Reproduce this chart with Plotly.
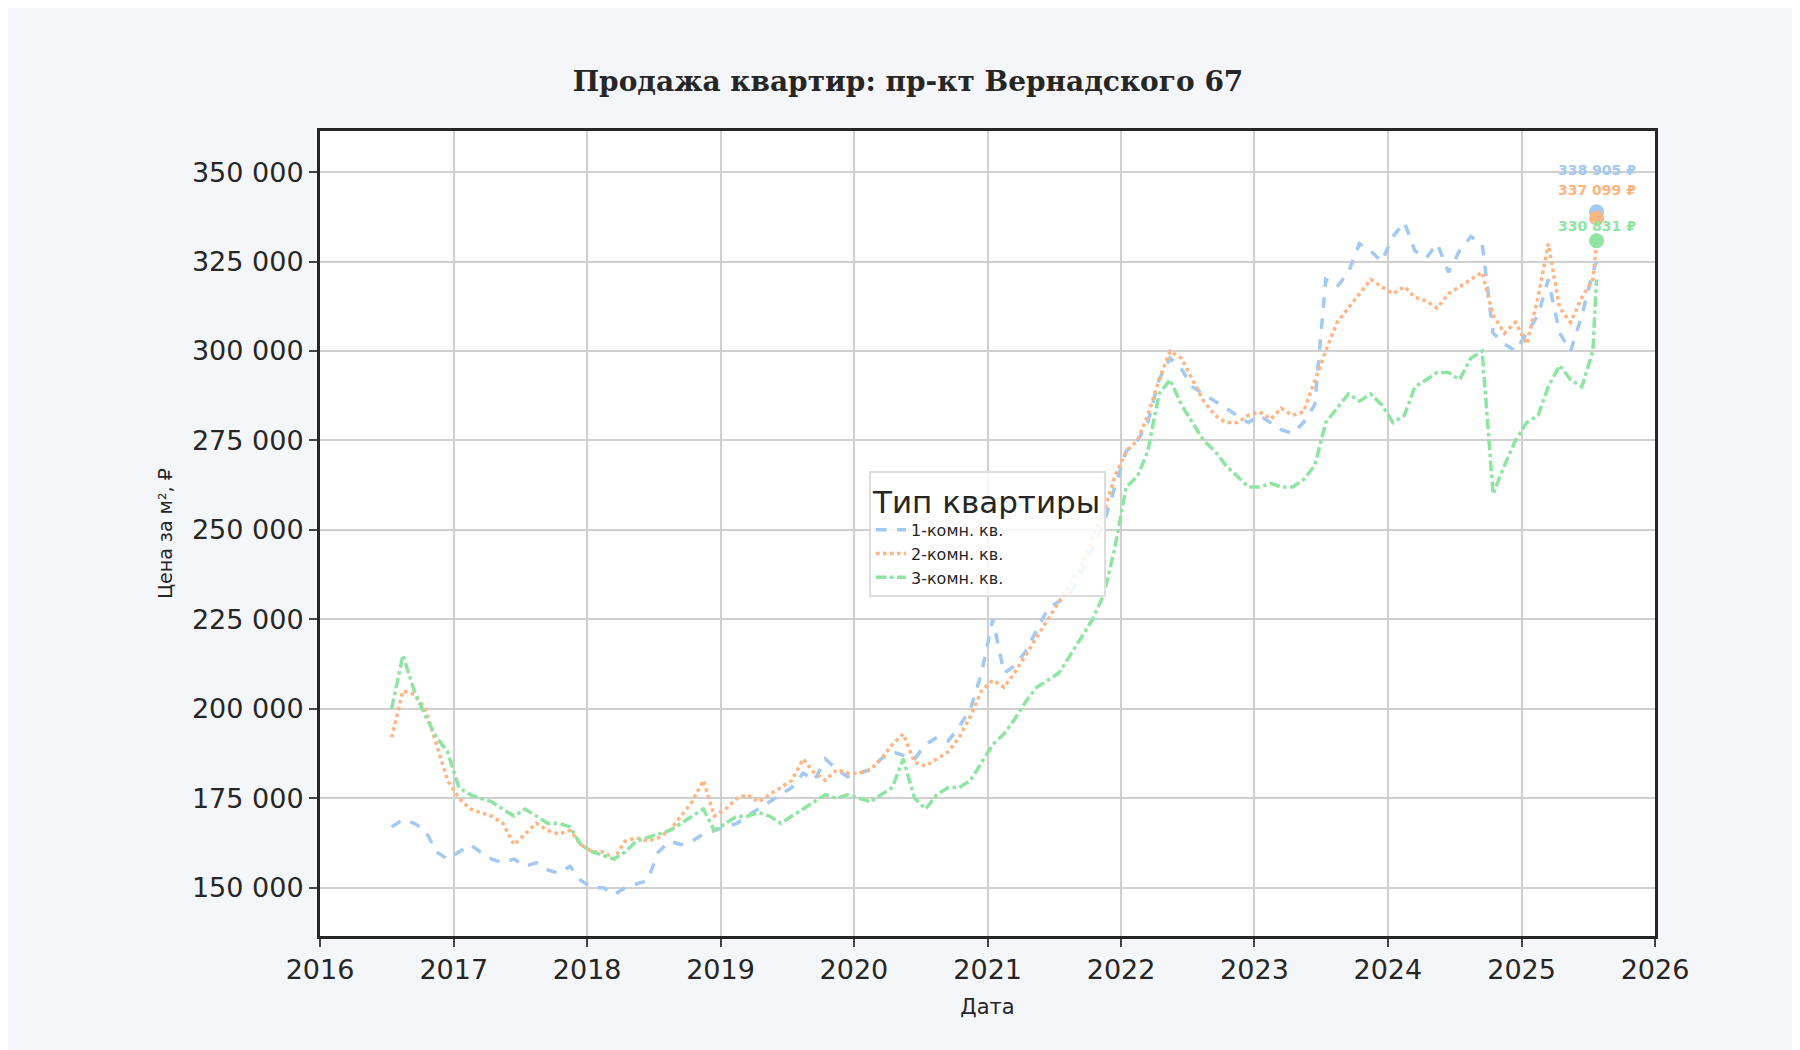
import plotly.graph_objects as go
import pandas as pd

# monthly points, mid-2016 .. mid-2025, plus the last observation
dates = list(pd.date_range("2016-06-15", "2025-07-15", freq="MS") + pd.Timedelta(days=14)) + [pd.Timestamp("2025-07-25")]

one_room = [167, 169, 168, 166, 160, 158, 160,
            162, 160, 158, 157, 158, 156, 157, 155, 154, 156, 152, 150,
            150, 148, 150, 151, 152, 160, 163, 162, 163, 165, 166, 167,
            168, 170, 172, 174, 176, 178, 182, 180, 186, 183, 181, 182,
            183, 186, 188, 187, 186, 190, 192, 191, 195, 200, 210, 225,
            210, 212, 216, 222, 228, 230, 232, 238, 245, 252, 262, 272,
            275, 280, 292, 298, 295, 290, 288, 286, 284, 282, 280, 282,
            280, 278, 277, 280, 285, 320, 318, 322, 330, 328, 325, 332,
            336, 328, 326, 330, 322, 328, 332, 330, 305, 302, 300, 305,
            310, 320, 305, 300, 310, 322, 325, 338.905]
two_room = [192, 205, 204, 200, 190, 180, 175,
            172, 171, 170, 168, 162, 165, 168, 166, 165, 166, 162, 160,
            160, 158, 163, 164, 163, 164, 166, 170, 174, 180, 170, 172,
            175, 176, 174, 176, 178, 180, 186, 182, 180, 183, 182, 182,
            183, 186, 190, 193, 185, 184, 186, 188, 192, 198, 205, 208,
            206, 210, 215, 220, 225, 230, 235, 240, 248, 255, 265, 272,
            275, 282, 292, 300, 298, 292, 286, 282, 280, 280, 282, 283,
            281, 284, 282, 283, 292, 300, 308, 312, 316, 320, 318, 316,
            318, 315, 314, 312, 316, 318, 320, 322, 310, 305, 308, 302,
            315, 330, 312, 308, 315, 320, 330, 337.099]
three_room = [200, 215, 205, 198, 192, 188, 178,
              176, 175, 174, 172, 170, 172, 170, 168, 168, 167, 162, 160,
              159, 158, 160, 163, 164, 165, 166, 168, 170, 172, 166, 168,
              170, 170, 171, 170, 168, 170, 172, 174, 176, 175, 176, 175,
              174, 176, 178, 186, 175, 172, 176, 178, 178, 180, 185, 190,
              193, 197, 202, 206, 208, 210, 215, 220, 225, 232, 245, 262,
              265, 272, 288, 292, 285, 280, 275, 272, 268, 265, 262, 262,
              263, 262, 262, 264, 268, 280, 284, 288, 286, 288, 285, 280,
              282, 290, 292, 294, 294, 292, 298, 300, 260, 268, 275, 280,
              282, 290, 296, 292, 290, 300, 320, 330.831]

names = ["1-комн. кв.", "2-комн. кв.", "3-комн. кв."]
colors = ["#a1c9f4", "#ffb482", "#8de5a1"]
dashes = ["dash", "dot", "dashdot"]
labels = ["338 905 ₽", "337 099 ₽", "330 831 ₽"]
label_y = [350500, 345000, 335000]

fig = go.Figure()
for name, vals, col, dash in zip(names, [one_room, two_room, three_room], colors, dashes):
    y = [v * 1000 for v in vals]
    fig.add_trace(go.Scatter(x=dates, y=y, mode="lines", name=name,
                             line=dict(color=col, width=3.5, dash=dash)))
    fig.add_trace(go.Scatter(x=[dates[-1]], y=[y[-1]], mode="markers", showlegend=False,
                             marker=dict(color=col, size=15)))

for txt, yy, col in zip(labels, label_y, colors):
    fig.add_annotation(x=pd.Timestamp("2025-07-25"), y=yy, text=f"<b>{txt}</b>", showarrow=False,
                       font=dict(color=col, size=14, family="DejaVu Sans"), xanchor="center")

ticks = list(range(150000, 350001, 25000))
fig.update_layout(
    width=1800, height=1050,
    paper_bgcolor="#f5f6fa", plot_bgcolor="white",
    margin=dict(l=312, r=153, t=123, b=122),
    font=dict(family="DejaVu Sans", color="#262626"),
    title=dict(text="<b>Продажа квартир: пр-кт Вернадского 67</b>", x=0.5, y=0.94, xanchor="center",
               font=dict(family="DejaVu Serif", size=28, color="#262626")),
    legend=dict(title=dict(text="Тип квартиры", font=dict(size=31)), font=dict(size=16),
                x=0.5, y=0.5, xanchor="center", yanchor="middle",
                bgcolor="rgba(255,255,255,0.85)", bordercolor="#dddddd", borderwidth=2),
)
fig.update_xaxes(range=[pd.Timestamp("2016-01-01"), pd.Timestamp("2026-01-01")], dtick="M12", tickformat="%Y",
                 showgrid=True, gridcolor="#d0d0d0", gridwidth=1.5, ticks="outside", ticklen=8, tickwidth=2,
                 showline=True, linecolor="#262626", linewidth=3, mirror=True,
                 tickfont=dict(size=27), title=dict(text="Дата", font=dict(size=21)))
fig.update_yaxes(range=[136500, 361500], tickvals=ticks, ticktext=[f"{t//1000} 000" for t in ticks],
                 showgrid=True, gridcolor="#d0d0d0", gridwidth=1.5, ticks="outside", ticklen=8, tickwidth=2,
                 showline=True, linecolor="#262626", linewidth=3, mirror=True, zeroline=False,
                 tickfont=dict(size=27), title=dict(text="Цена за м², ₽", font=dict(size=19)))

fig.write_html("out.html")
